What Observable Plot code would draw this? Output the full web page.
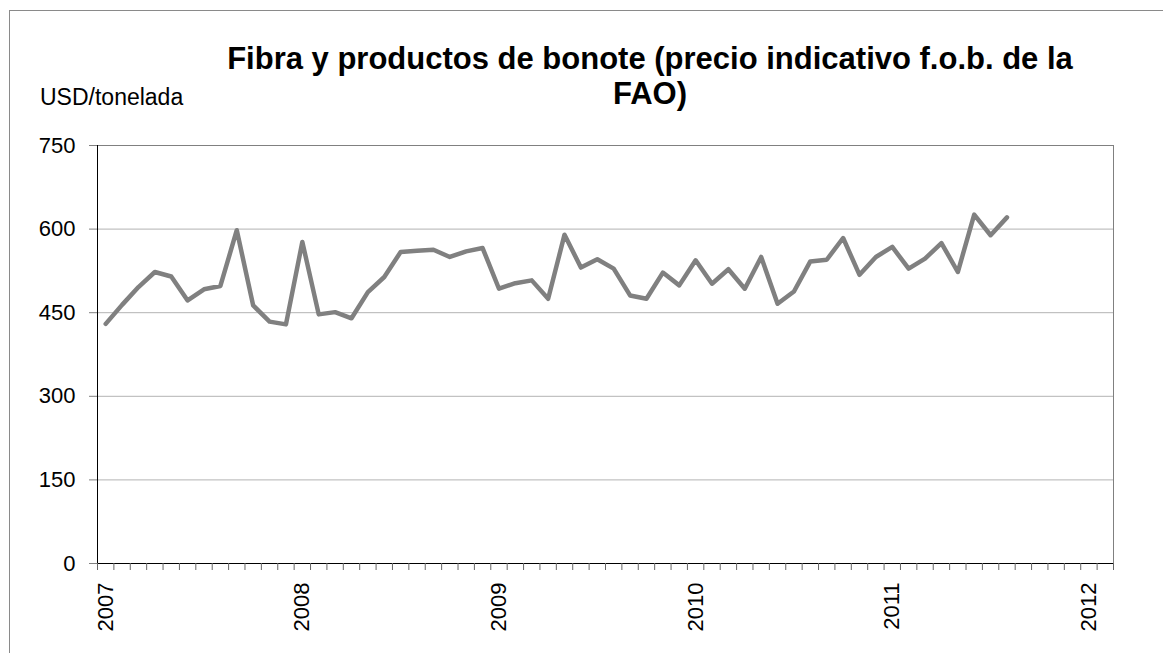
<!DOCTYPE html>
<html>
<head>
<meta charset="utf-8">
<script src="https://cdn.jsdelivr.net/npm/d3@7"></script>
<script src="https://cdn.jsdelivr.net/npm/@observablehq/plot@0.6"></script>
<style>
  html, body { margin: 0; padding: 0; background: white; }
  #wrap { position: relative; width: 1163px; height: 653px; overflow: hidden; font-family: "Liberation Sans", Arial, sans-serif; }
  #border { position: absolute; left: 9px; top: 10px; width: 1200px; height: 700px; border-left: 1px solid #8a8a8a; border-top: 1px solid #8a8a8a; }
  #title { position: absolute; left: 150px; width: 1000px; top: 41px; text-align: center; font-weight: bold; font-size: 31px; line-height: 35px; color: #000; z-index: 2; }
  #unit { position: absolute; left: 40px; top: 86px; font-size: 23px; line-height: 23px; color: #000; z-index: 2; }
  #chart { position: absolute; left: 0; top: 0; z-index: 1; }
</style>
</head>
<body>
<div id="wrap">
  <div id="border"></div>
  <div id="chart"></div>
  <div id="title">Fibra y productos de bonote (precio indicativo f.o.b. de la<br>FAO)</div>
  <div id="unit">USD/tonelada</div>
</div>
<script>
// Category axis: months Jan 2007 – Feb 2012
const months = [];
for (let y = 2007; y <= 2012; y++) {
  for (let m = 1; m <= 12; m++) {
    if (y === 2012 && m > 2) break;
    months.push(`${y}-${String(m).padStart(2, "0")}`);
  }
}
// Monthly prices (USD/tonelada), Jan 2007 – Aug 2011
const prices = [
  430, 464, 496, 523, 515, 472, 492, 498, 598, 463, 434, 429,
  577, 447, 451, 440, 487, 514, 559, 561, 563, 550, 560, 566,
  493, 503, 508, 475, 590, 531, 546, 529, 481, 475, 522, 499,
  544, 502, 528, 493, 550, 466, 488, 542, 545, 584, 518, 550,
  568, 529, 547, 575, 523, 626, 589, 621
];
const yearLabels = ["2007", "2008", "2009", "2010", "2011", "2012"];
const yTicks = [0, 150, 300, 450, 600, 750];

const data = prices.map((v, i) => ({month: months[i], value: v}));
const idx = (m) => months.indexOf(m);
const years = yearLabels.map(y => ({label: y, month: `${y}-01`}));
const boundaries = d3.range(0, months.length + 1);

const chart = Plot.plot({
  width: 1163,
  height: 653,
  marginLeft: 97,
  marginRight: 50,
  marginTop: 145,
  marginBottom: 90,
  style: {background: "transparent", fontFamily: "Liberation Sans, Arial, sans-serif", fontSize: "22px", color: "black", overflow: "visible"},
  x: {type: "linear", domain: [0, months.length], axis: null},
  y: {domain: [0, 750], axis: null},
  marks: [
    Plot.ruleY(yTicks.filter(d => d > 0 && d < 750), {stroke: "#b3b3b3", strokeWidth: 1}),
    Plot.frame({stroke: "#808080"}),
    Plot.ruleX([0], {stroke: "black"}),
    Plot.ruleY([0], {stroke: "black"}),
    // y ticks and labels
    Plot.ruleY(yTicks, {x1: 0, x2: 0, insetLeft: -8, stroke: "#808080"}),
    Plot.text(yTicks, {x: 0, y: d => d, text: d => String(d), textAnchor: "end", dx: -22, fontSize: 22, fill: "black"}),
    // x category boundary ticks
    Plot.ruleX(boundaries, {x: d => d, y1: 0, y2: 0, insetBottom: -7, stroke: "#666"}),
    // year labels
    Plot.text(years, {x: d => idx(d.month) + 0.5, y: () => 0, text: "label", rotate: -90, textAnchor: "end", lineAnchor: "middle", dy: 19, fontSize: 22, fill: "black"}),
    // series
    Plot.line(data, {x: d => idx(d.month) + 0.5, y: "value", stroke: "#808080", strokeWidth: 4.5, strokeLinejoin: "round", strokeLinecap: "round"})
  ]
});
document.getElementById("chart").appendChild(chart);
</script>
</body>
</html>
